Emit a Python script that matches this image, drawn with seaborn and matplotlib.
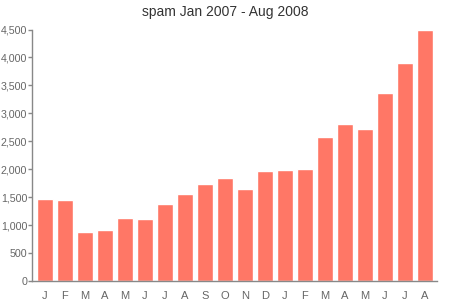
import matplotlib
matplotlib.use("Agg")
import matplotlib.pyplot as plt
import seaborn as sns
import pandas as pd
from matplotlib.ticker import FuncFormatter

months = ["2007-01", "2007-02", "2007-03", "2007-04", "2007-05", "2007-06",
          "2007-07", "2007-08", "2007-09", "2007-10", "2007-11", "2007-12",
          "2008-01", "2008-02", "2008-03", "2008-04", "2008-05", "2008-06",
          "2008-07", "2008-08"]
tick_labels = ["J", "F", "M", "A", "M", "J", "J", "A", "S", "O", "N", "D",
               "J", "F", "M", "A", "M", "J", "J", "A"]
spam = [1472, 1445, 871, 912, 1127, 1109, 1377, 1562, 1730, 1848, 1640, 1968,
        1986, 1998, 2581, 2803, 2719, 3358, 3900, 4495]
title = "spam Jan 2007 - Aug 2008"

df = pd.DataFrame({"month": months, "spam": spam})

sns.set_style("white")
plt.rcParams["font.family"] = ["Liberation Sans", "DejaVu Sans"]

fig = plt.figure(figsize=(4.5, 3), dpi=100)
ax = fig.add_axes([32 / 450, 1 - 281 / 300, 405 / 450, 251.5 / 300])

sns.barplot(data=df, x="month", y="spam", order=months, color="#ff7766",
            saturation=1, width=0.8, ax=ax)

ax.set_xlim(-0.65, 19.6)
ax.set_ylim(0, 4500)
ax.set_yticks(range(0, 4501, 500))
ax.yaxis.set_major_formatter(FuncFormatter(lambda v, p: f"{int(v):,}"))
ax.set_xticks(range(len(months)))
ax.set_xticklabels(tick_labels)
ax.set_xlabel("")
ax.set_ylabel("")

for s in ["top", "right"]:
    ax.spines[s].set_visible(False)
for s in ["left", "bottom"]:
    ax.spines[s].set_color("#888888")
    ax.spines[s].set_linewidth(1)

ax.tick_params(axis="y", which="both", left=True, length=3, width=1,
               color="#888888", labelcolor="#666666", labelsize=7.7, pad=0.5)
ax.tick_params(axis="x", bottom=False, labelcolor="#666666", labelsize=8,
               pad=4)

fig.text(225 / 450, 1 - 12 / 300, title, ha="center", va="center",
         fontsize=10, color="#333333")

fig.savefig("out.png", dpi=100)
